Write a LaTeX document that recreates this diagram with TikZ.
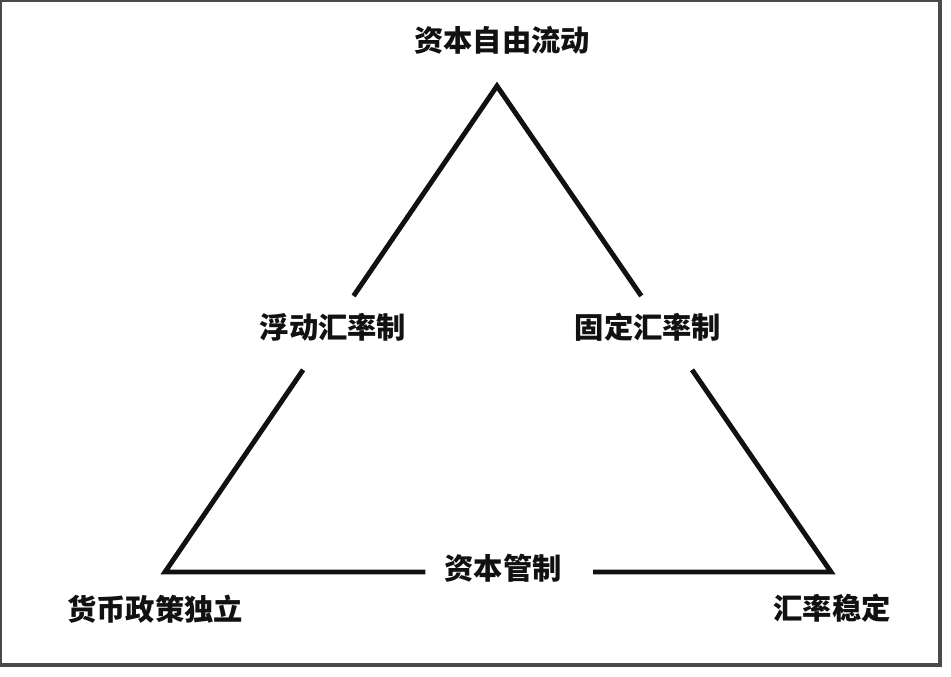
\documentclass[tikz,border=0pt]{standalone}
\usepackage{fontspec}
\usepackage{xcolor}
\usepackage{tikz}
\usetikzlibrary{calc,positioning}
\newfontfamily\cjk{Noto Sans CJK SC}
\definecolor{framec}{HTML}{4A4A4A}
\definecolor{inkc}{HTML}{111111}
\tikzset{
  edge/.style={line width=4.2pt,inkc,line join=miter},
  lbl/.style={font=\cjk\bfseries\fontsize{25}{30}\selectfont,text=inkc,inner sep=0pt}
}

\begin{document}
\begin{tikzpicture}[x=0.03cm,y=-0.03cm]
\useasboundingbox (0,0) rectangle (951,677);
\draw[framec,line width=3.4pt] (0,0) rectangle (940,665);
\coordinate (top) at (497,86);
\coordinate (lb) at (165,572);
\coordinate (rb) at (831,572);
\coordinate (l1) at ($(top)!0.432!(lb)$);
\coordinate (l2) at ($(top)!0.584!(lb)$);
\coordinate (r1) at ($(top)!0.432!(rb)$);
\coordinate (r2) at ($(top)!0.584!(rb)$);
\coordinate (b1) at ($(lb)!0.391!(rb)$);
\coordinate (b2) at ($(lb)!0.643!(rb)$);
\draw[edge] (l1) -- (top) -- (r1);
\draw[edge] (l2) -- (lb) -- (b1);
\draw[edge] (b2) -- (rb) -- (r2);
\node[lbl] (capital) at (502,40) {资本自由流动};
\node[lbl] (floatfx) at (333,327) {浮动汇率制};
\node[lbl] (fixedfx) at (648,327) {固定汇率制};
\node[lbl] (control) at (503,568) {资本管制};
\node[lbl] (monetary) at (155,609) {货币政策独立};
\node[lbl] (stable) at (832,608) {汇率稳定};
\end{tikzpicture}
\end{document}
